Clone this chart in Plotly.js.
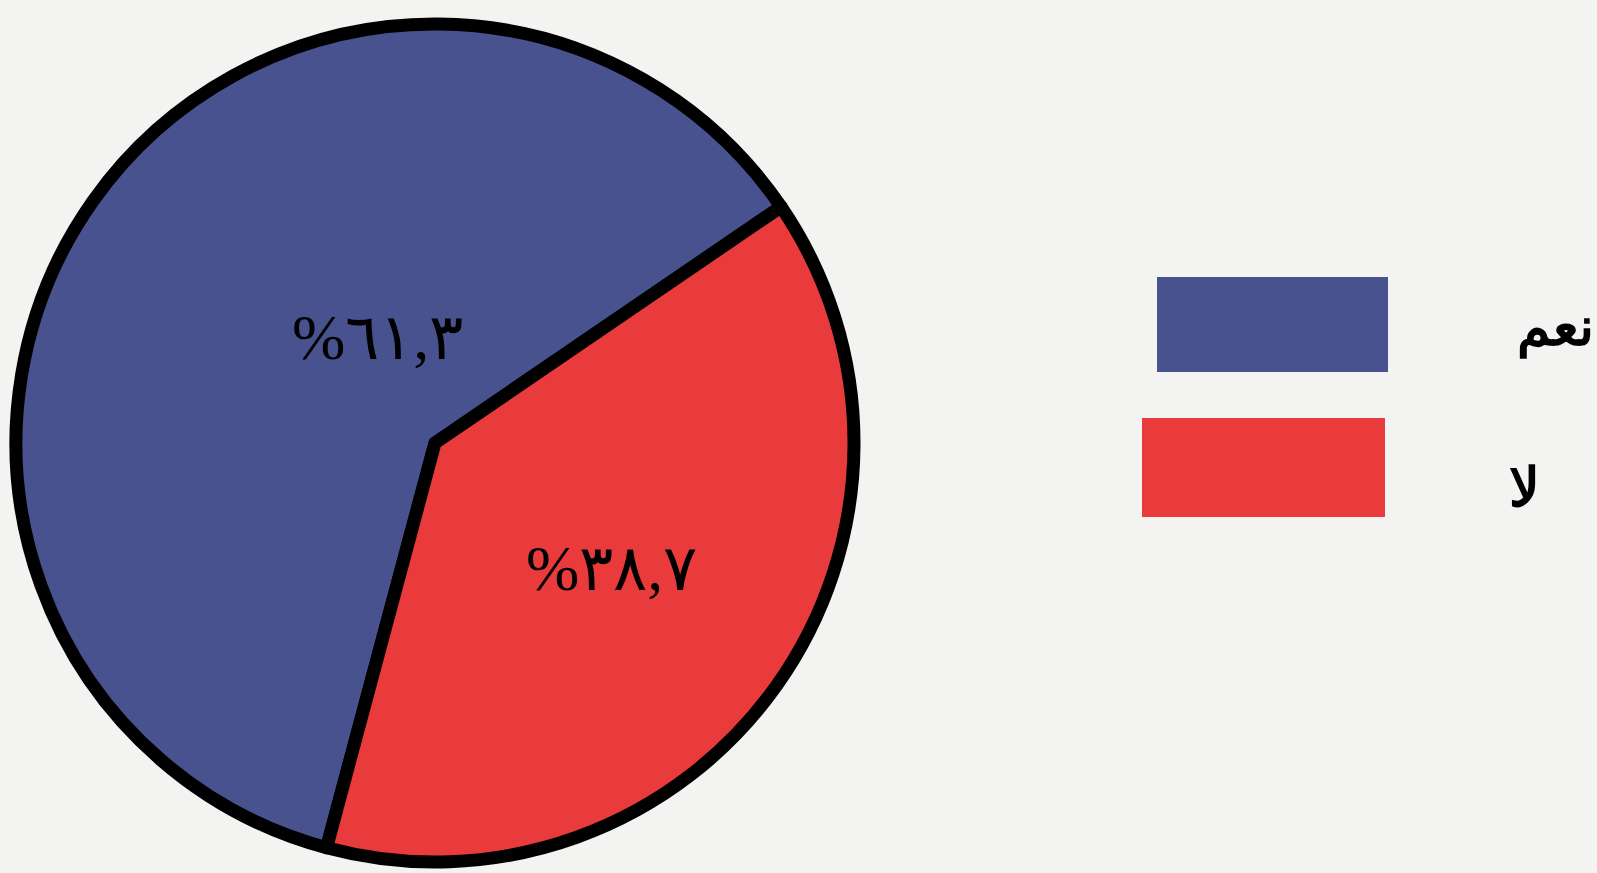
<!DOCTYPE html>
<html>
<head>
<meta charset="utf-8">
<script src="https://cdn.plot.ly/plotly-3.0.1.min.js"></script>
<style>
html,body{margin:0;padding:0;background:#f3f4f2;}
#chart{width:1597px;height:873px;}
</style>
</head>
<body>
<div id="chart"></div>
<script>
const categories = ['نعم', 'لا'];
const values = [61.3, 38.7];
const sliceText = ['%٦١,٣', '%٣٨,٧'];
const colors = ['#47528e', '#e93b3b'];

const W = 1597, H = 873;
const px = v => v / W;
const py = v => (H - v) / H;

const trace = {
  type: 'pie',
  labels: categories,
  values: values,
  textinfo: 'none',
  sort: false,
  direction: 'clockwise',
  rotation: 195,
  marker: {colors: colors, line: {color: '#000000', width: 13}},
  domain: {x: [px(16), px(854)], y: [py(862), py(24)]},
  showlegend: false,
  hoverinfo: 'label+percent'
};

const sliceLabelPos = [{x: 377, y: 338}, {x: 611, y: 568}];
const legendBoxes = [
  {x0: 1157, x1: 1388, y0: 277, y1: 372},
  {x0: 1142, x1: 1385, y0: 418, y1: 517}
];
const legendText = [
  {x: 1596, y: 328},
  {x: 1542, y: 488}
];

const fontFam = 'Liberation Serif, DejaVu Serif, serif';

const shapes = legendBoxes.map((b, i) => ({
  type: 'rect', xref: 'paper', yref: 'paper',
  x0: px(b.x0), x1: px(b.x1), y0: py(b.y1), y1: py(b.y0),
  fillcolor: colors[i], line: {width: 0}
}));
const annotations = legendText.map((t, i) => ({
  xref: 'paper', yref: 'paper', x: px(t.x), y: py(t.y),
  xanchor: 'right', yanchor: 'middle', showarrow: false,
  text: '<b>' + categories[i] + '</b>',
  font: {family: fontFam, size: 54, color: '#000000'}
})).concat(sliceLabelPos.map((p, i) => ({
  xref: 'paper', yref: 'paper', x: px(p.x), y: py(p.y),
  xanchor: 'center', yanchor: 'middle', showarrow: false,
  text: sliceText[i],
  font: {family: fontFam, size: 64, color: '#000000'}
})));

const layout = {
  width: W, height: H,
  margin: {l: 0, r: 0, t: 0, b: 0},
  paper_bgcolor: '#f3f4f2',
  plot_bgcolor: '#f3f4f2',
  shapes: shapes,
  annotations: annotations
};

Plotly.newPlot('chart', [trace], layout, {displayModeBar: false, staticPlot: true});
</script>
</body>
</html>
